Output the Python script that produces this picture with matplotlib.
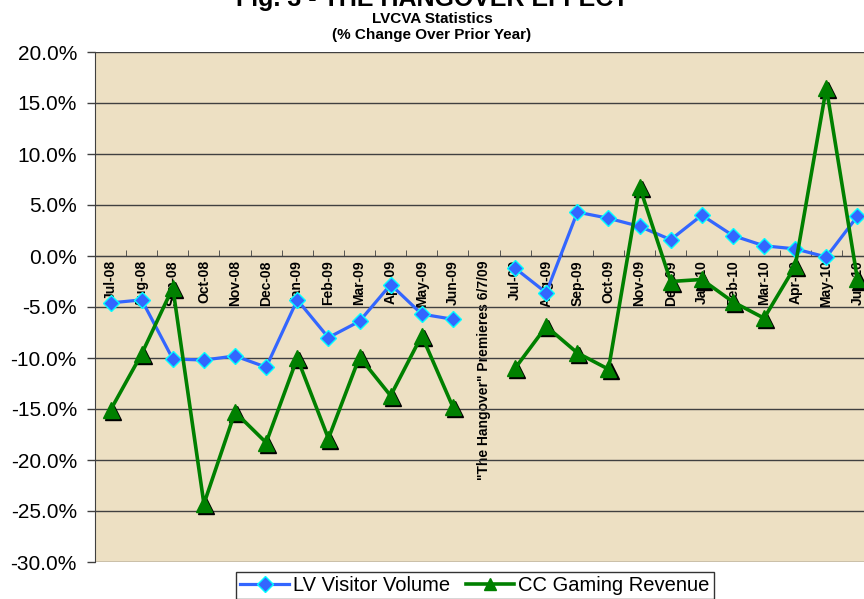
import matplotlib
matplotlib.use('Agg')
import matplotlib.pyplot as plt
import matplotlib.transforms as mtransforms
import numpy as np

months = ['Jul-08', 'Aug-08', 'Sep-08', 'Oct-08', 'Nov-08', 'Dec-08',
          'Jan-09', 'Feb-09', 'Mar-09', 'Apr-09', 'May-09', 'Jun-09',
          '"The Hangover" Premieres 6/7/09',
          'Jul-09', 'Aug-09', 'Sep-09', 'Oct-09', 'Nov-09', 'Dec-09',
          'Jan-10', 'Feb-10', 'Mar-10', 'Apr-10', 'May-10', 'Jun-10']

# % change over prior year (None = gap at the premiere marker)
visitor_volume = [-4.6, -4.3, -10.1, -10.2, -9.8, -10.9,
                  -4.3, -8.0, -6.4, -2.8, -5.7, -6.2,
                  None,
                  -1.2, -3.6, 4.3, 3.7, 2.9, 1.6,
                  4.0, 2.0, 1.0, 0.7, -0.1, 3.9]
gaming_revenue = [-15.1, -9.6, -3.1, -24.3, -15.3, -18.3,
                  -10.0, -17.9, -9.9, -13.7, -7.8, -14.8,
                  None,
                  -11.0, -6.9, -9.5, -11.1, 6.8, -2.5,
                  -2.3, -4.5, -6.1, -1.0, 16.5, -2.3]
y_ticks = [-30, -25, -20, -15, -10, -5, 0, 5, 10, 15, 20]

vv = np.array([np.nan if v is None else v for v in visitor_volume]) / 100
gr = np.array([np.nan if v is None else v for v in gaming_revenue]) / 100
x = np.arange(len(months))

plt.rcParams['font.family'] = ['Liberation Sans', 'DejaVu Sans']

fig = plt.figure(figsize=(8.64, 5.99), dpi=100)
ax = fig.add_axes([95 / 864, 1 - 562 / 599, 778 / 864, 510 / 599])
ax.set_facecolor('#EDE0C3')

ax.set_xlim(-0.5, len(months) - 0.5)
ax.set_ylim(-0.30, 0.20)
ax.set_yticks([t / 100 for t in y_ticks])
ax.set_yticklabels(['%.1f%%' % t for t in y_ticks], fontsize=15)
ax.yaxis.grid(True, color='#404040', lw=1)
ax.set_axisbelow(True)
ax.tick_params(axis='y', length=6, width=1, color='#404040', pad=7)

# category axis crosses at 0
ax.spines['bottom'].set_position(('data', 0))
ax.spines['bottom'].set_color('#404040')
ax.spines['left'].set_color('#404040')
ax.spines['top'].set_visible(False)
ax.spines['right'].set_visible(False)
ax.set_xticks(x)
ax.set_xticklabels(months, rotation=90, fontsize=10, fontweight='bold', va='top')
ax.set_xticks(np.arange(-0.5, len(months), 1.0), minor=True)
ax.tick_params(axis='x', which='major', length=0, pad=3)
ax.tick_params(axis='x', which='minor', direction='in', length=4, color='#404040')

l1, = ax.plot(x, vv, color='#3366FF', lw=2.3, marker='D', markersize=8,
              markerfacecolor='#3366FF', markeredgecolor='#00FFFF',
              markeredgewidth=1, label='LV Visitor Volume', zorder=3)

# shadow under the triangles
shadow = mtransforms.offset_copy(ax.transData, fig=fig, x=1.5, y=-1.5, units='points')
ax.plot(x, gr, ls='none', marker='^', markersize=12, color='black',
        transform=shadow, zorder=4)
l2, = ax.plot(x, gr, color='#008000', lw=2.6, marker='^', markersize=12,
              markerfacecolor='#008000', markeredgecolor='#008000',
              label='CC Gaming Revenue', zorder=5)

fig.text(0.5, 1 - 6 / 599, 'Fig. 3 - THE HANGOVER EFFECT', ha='center',
         va='baseline', fontsize=18, fontweight='bold')
fig.text(0.5, 1 - 23 / 599, 'LVCVA Statistics', ha='center', va='baseline',
         fontsize=11, fontweight='bold')
fig.text(0.5, 1 - 39 / 599, '(% Change Over Prior Year)', ha='center',
         va='baseline', fontsize=11, fontweight='bold')

leg = fig.legend(handles=[l1, l2], loc='upper center', ncol=2,
                 bbox_to_anchor=(475 / 864, 1 - 572 / 599), fontsize=14.5,
                 frameon=True, fancybox=False, edgecolor='black',
                 handlelength=2.4, handletextpad=0.2, columnspacing=0.8,
                 borderpad=0.2, borderaxespad=0)
leg.get_frame().set_linewidth(1)
for h in leg.legend_handles:
    h.set_markersize(8)

fig.savefig('out.png', dpi=100)
